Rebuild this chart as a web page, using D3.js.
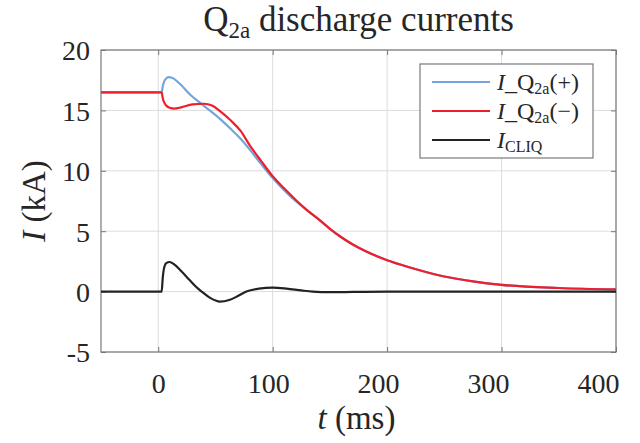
<!DOCTYPE html>
<html>
<head>
<meta charset="utf-8">
<script src="https://cdn.jsdelivr.net/npm/d3@7"></script>
<style>
  body { margin: 0; background: #fff; }
</style>
</head>
<body>
<div id="chart"></div>
<script>
// Q2a discharge currents

// time axis (ms) for each series, and current values (kA)
const tPlus  = [-50, 0, 3, 4, 5, 7, 9, 12, 16, 20, 28, 37, 45, 54, 63, 72, 80, 90, 100, 110, 120, 130, 140, 150, 160, 170, 180, 200, 220, 250, 275, 300, 350, 400];
const iPlus  = [16.5, 16.5, 16.5, 17.0, 17.35, 17.65, 17.75, 17.7, 17.45, 17.1, 16.3, 15.6, 15.0, 14.3, 13.5, 12.65, 11.75, 10.55, 9.4, 8.4, 7.5, 6.72, 6.0, 5.2, 4.5, 3.9, 3.4, 2.6, 2.0, 1.25, 0.85, 0.56, 0.3, 0.18];

const tMinus = [-50, 0, 3, 4, 5, 7, 10, 14, 20, 30, 40, 47, 54, 63, 72, 80, 90, 100, 110, 120, 130, 140, 150, 160, 170, 180, 200, 220, 250, 275, 300, 350, 400];
const iMinus = [16.5, 16.5, 16.5, 16.0, 15.7, 15.4, 15.22, 15.15, 15.25, 15.5, 15.55, 15.4, 14.95, 14.2, 13.3, 12.1, 10.8, 9.55, 8.55, 7.6, 6.75, 6.0, 5.2, 4.5, 3.9, 3.4, 2.6, 2.0, 1.25, 0.85, 0.56, 0.3, 0.18];

const tCliq  = [-50, 0, 3, 4, 5, 7, 10, 14, 20, 27, 33, 38, 45, 54, 62, 70, 77, 88, 100, 112, 125, 135, 150, 170, 200, 250, 300, 400];
const iCliq  = [0, 0, 0, 1.2, 1.9, 2.35, 2.45, 2.25, 1.7, 1.0, 0.4, 0, -0.5, -0.83, -0.7, -0.35, 0, 0.25, 0.33, 0.25, 0.1, 0, -0.05, -0.03, 0, 0, 0, 0];

const xTicks = [0, 100, 200, 300, 400];
const yTicks = [-5, 0, 5, 10, 15, 20];

const FONT = "'Liberation Serif', 'Times New Roman', serif";

function zip(ts, vs) { return ts.map((t, i) => ({t: t, v: vs[i]})); }

function drawChart() {
    const W = 640, H = 443;
    const margin = {top: 50, right: 24, bottom: 91, left: 101},
          width = W - margin.left - margin.right,
          height = H - margin.top - margin.bottom;

    const root = d3.select("#chart").append("svg")
        .attr("width", W)
        .attr("height", H);

    const svg = root.append("g")
        .attr("transform", `translate(${margin.left},${margin.top})`);

    const x = d3.scaleLinear().domain([-50, 400]).range([0, width]);
    const y = d3.scaleLinear().domain([-5, 20]).range([height, 0]);

    const colors = { plus: "#72a6da", minus: "#ee1f2b", cliq: "#222222" };

    // grid
    svg.append("g").selectAll("line")
        .data(xTicks)
        .enter().append("line")
        .attr("x1", d => x(d)).attr("x2", d => x(d))
        .attr("y1", 0).attr("y2", height)
        .attr("stroke", "#dcdcdc").attr("stroke-width", 1);
    svg.append("g").selectAll("line")
        .data(yTicks)
        .enter().append("line")
        .attr("x1", 0).attr("x2", width)
        .attr("y1", d => y(d)).attr("y2", d => y(d))
        .attr("stroke", "#dcdcdc").attr("stroke-width", 1);

    // axes (ticks pointing inward, MATLAB style)
    const xAx = svg.append("g")
        .attr("transform", `translate(0,${height})`)
        .call(d3.axisBottom(x).tickValues(xTicks).tickSize(-5).tickSizeOuter(0).tickPadding(10).tickFormat(d => String(d)));
    xAx.selectAll("text")
        .attr("y", 41).attr("dy", 0)
        .attr("dx", d => -d * 0.045)   // labels sit slightly left of ticks in the original
        .style("font-size", "28px");

    const yAx = svg.append("g")
        .call(d3.axisLeft(y).tickValues(yTicks).tickSize(-5).tickSizeOuter(0).tickPadding(11).tickFormat(d => String(d)));
    yAx.selectAll("text").style("font-size", "28px").attr("dy", "0.35em");

    svg.append("g")
        .call(d3.axisTop(x).tickValues(xTicks).tickSize(-5).tickSizeOuter(0).tickFormat(""));
    svg.append("g")
        .attr("transform", `translate(${width},0)`)
        .call(d3.axisRight(y).tickValues(yTicks).tickSize(-5).tickSizeOuter(0).tickFormat(""));

    svg.selectAll(".domain").remove();
    svg.selectAll(".tick line").attr("stroke", "#777");

    // box
    svg.append("rect")
        .attr("x", 0).attr("y", 0)
        .attr("width", width).attr("height", height)
        .attr("fill", "none")
        .attr("stroke", "#7a7a7a")
        .attr("stroke-width", 1.2);

    // lines
    const line = d3.line()
        .x(d => x(d.t))
        .y(d => y(d.v))
        .curve(d3.curveMonotoneX);

    const series = [
        {key: "plus", data: zip(tPlus, iPlus)},
        {key: "minus", data: zip(tMinus, iMinus)},
        {key: "cliq", data: zip(tCliq, iCliq)}
    ];

    series.forEach(s => {
        svg.append("path")
            .datum(s.data)
            .attr("d", line)
            .attr("fill", "none")
            .attr("stroke", colors[s.key])
            .attr("stroke-width", 2.2)
            .attr("stroke-linejoin", "round");
    });

    // title
    const title = root.append("text")
        .attr("x", margin.left + width / 2)
        .attr("y", 31)
        .attr("text-anchor", "middle")
        .style("font-size", "35px");
    title.append("tspan").text("Q");
    title.append("tspan").attr("dy", 7).style("font-size", "23px").text("2a");
    title.append("tspan").attr("dy", -7).text("\u00a0discharge currents");

    // axis labels
    const xl = root.append("text")
        .attr("x", margin.left + width / 2 - 2)
        .attr("y", 429)
        .attr("text-anchor", "middle")
        .style("font-size", "33px");
    xl.append("tspan").style("font-style", "italic").text("t");
    xl.append("tspan").text("\u00a0(ms)");

    const yl = root.append("text")
        .attr("transform", "rotate(-90)")
        .attr("x", -(margin.top + height / 2))
        .attr("y", 45)
        .attr("text-anchor", "middle")
        .style("font-size", "33px");
    yl.append("tspan").style("font-style", "italic").text("I");
    yl.append("tspan").text("\u00a0(kA)");

    // legend
    const legend = root.append("g")
        .attr("transform", "translate(420,64)");

    legend.append("rect")
        .attr("x", 0).attr("y", 0)
        .attr("width", 173).attr("height", 94)
        .attr("fill", "#fff")
        .attr("stroke", "#7a7a7a")
        .attr("stroke-width", 1.2);

    const entries = [
        {key: "plus", sign: "(+)"},
        {key: "minus", sign: "(\u2212)"},
        {key: "cliq", sign: null}
    ];

    entries.forEach((e, i) => {
        const yy = 18 + i * 29;
        legend.append("line")
            .attr("x1", 12).attr("x2", 70)
            .attr("y1", yy).attr("y2", yy)
            .attr("stroke", colors[e.key])
            .attr("stroke-width", 2.2);

        const t = legend.append("text")
            .attr("x", 77)
            .attr("y", yy + 8)
            .style("font-size", "24px");
        t.append("tspan").style("font-style", "italic").text("I");
        if (e.sign) {
            t.append("tspan").text("_Q");
            t.append("tspan").attr("dy", 4).style("font-size", "16px").text("2a");
            t.append("tspan").attr("dy", -4).text(e.sign);
        } else {
            t.append("tspan").attr("dy", 4).style("font-size", "16px").text("CLIQ");
        }
    });

    // serif everywhere, also over the axis groups' own sans-serif default
    root.selectAll("text")
        .style("font-family", FONT)
        .style("fill", "#262626");
}

document.addEventListener("DOMContentLoaded", drawChart);
</script>
</body>
</html>
